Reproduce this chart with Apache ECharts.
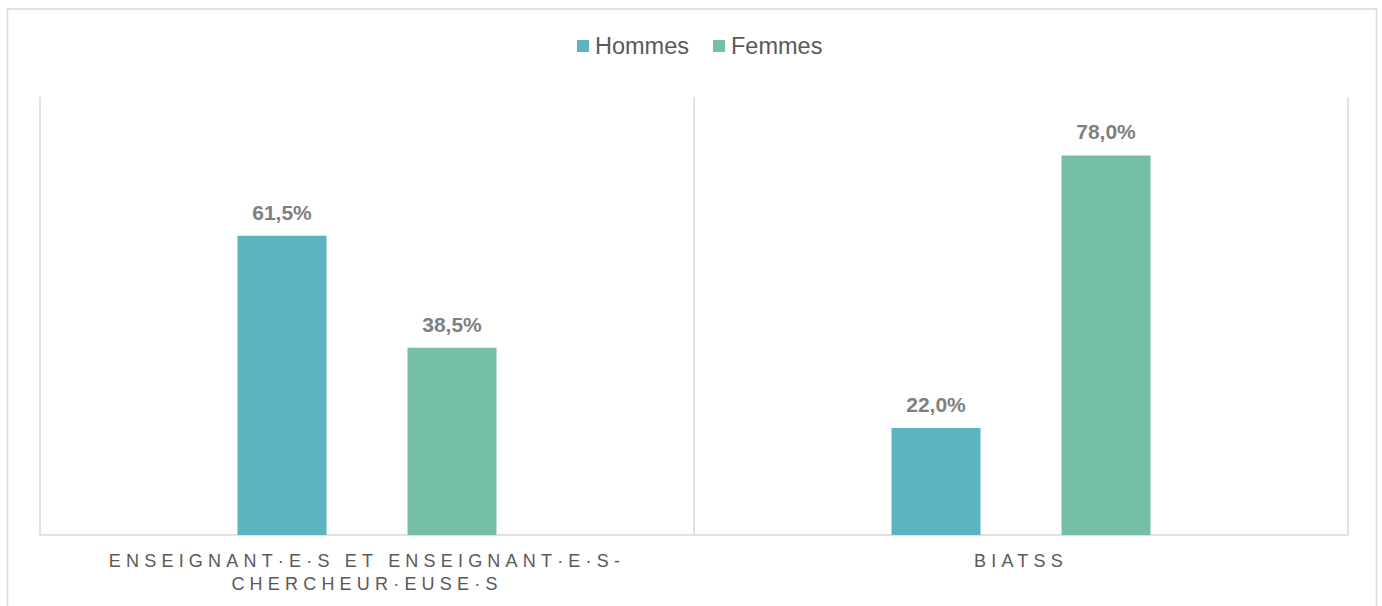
<!DOCTYPE html>
<html>
<head>
<meta charset="utf-8">
<script src="https://cdn.jsdelivr.net/npm/echarts@6/dist/echarts.min.js"></script>
<style>
  html, body { margin: 0; padding: 0; background: #fff; }
  #chart { width: 1382px; height: 606px; }
  text[style*="LSAxis"] { letter-spacing: 5.2px; }
</style>
</head>
<body>
<div id="chart"></div>
<script>
const categories = ['ENSEIGNANT·E·S ET ENSEIGNANT·E·S-\nCHERCHEUR·EUSE·S', 'BIATSS'];
const seriesNames = ['Hommes', 'Femmes'];
const hommes = [61.5, 22.0];
const femmes = [38.5, 78.0];

const chart = echarts.init(document.getElementById('chart'), null, { renderer: 'svg' });
const fmt = p => p.value.toFixed(1).replace('.', ',') + '%';
const labelStyle = {
  show: true, position: 'top', distance: 13, formatter: fmt,
  fontFamily: 'Arial, "Liberation Sans", sans-serif', fontSize: 21, fontWeight: 'bold', color: '#7f7f7f'
};
chart.setOption({
  animation: false,
  backgroundColor: '#ffffff',
  graphic: [{
    type: 'rect', z: -10, silent: true,
    shape: { x: 7.5, y: 9, width: 1369, height: 640 },
    style: { fill: 'none', stroke: '#d9d9d9', lineWidth: 1.5 }
  }],
  legend: {
    data: seriesNames,
    left: 572, top: 29,
    icon: 'rect', itemWidth: 12, itemHeight: 12, itemGap: 24,
    textStyle: { fontFamily: 'Arial, "Liberation Sans", sans-serif', fontSize: 23.5, color: '#595959', padding: [0, 0, 0, 1] }
  },
  grid: { left: 40, right: 34, top: 97, bottom: 71 },
  xAxis: {
    type: 'category', data: categories,
    axisLine: { show: true, lineStyle: { color: '#d9d9d9', width: 1.5 } },
    axisTick: { show: false },
    splitLine: { show: true, lineStyle: { color: '#d9d9d9', width: 1.5 } },
    axisLabel: {
      margin: 14, interval: 0,
      fontFamily: 'Arial, "Liberation Sans", LSAxis', fontSize: 18, lineHeight: 23, color: '#595959'
    }
  },
  yAxis: { type: 'value', min: 0, max: 90, show: false, splitLine: { show: false } },
  series: [
    { name: seriesNames[0], type: 'bar', data: hommes, barWidth: 89, barGap: '91%',
      itemStyle: { color: '#5ab5c0' }, label: labelStyle },
    { name: seriesNames[1], type: 'bar', data: femmes, barWidth: 89, barGap: '91%',
      itemStyle: { color: '#76bfa7' }, label: labelStyle }
  ]
});
</script>
</body>
</html>
